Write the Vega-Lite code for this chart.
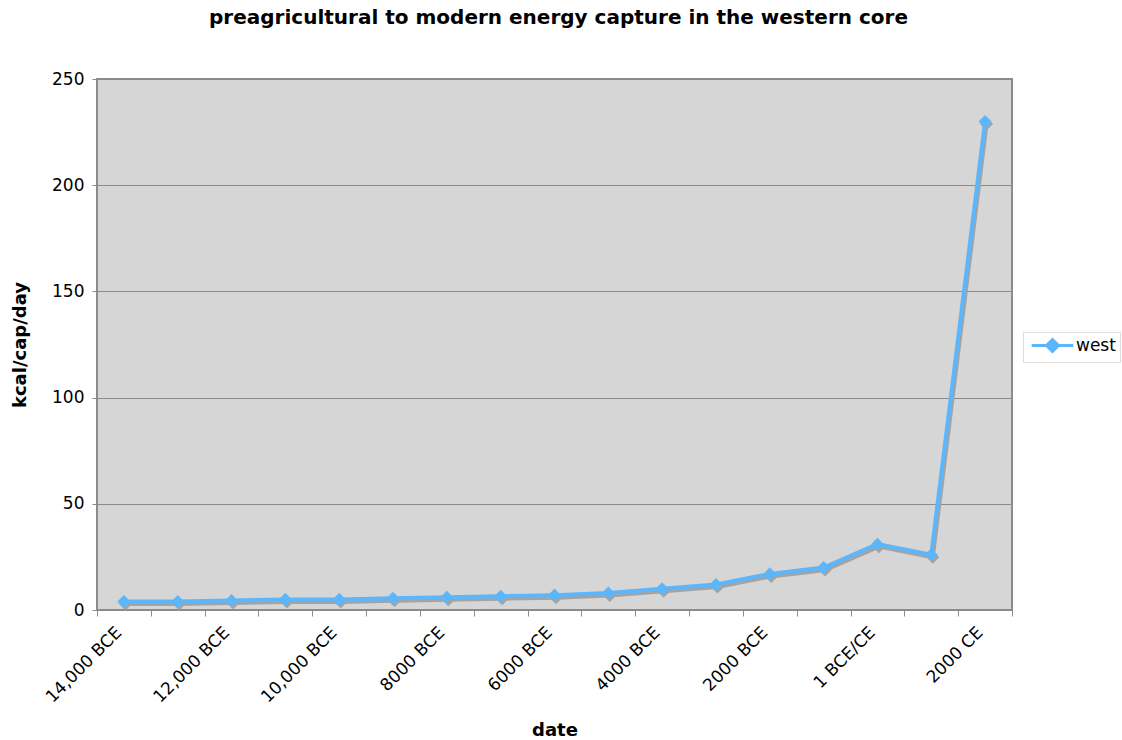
{
  "$schema": "https://vega.github.io/schema/vega-lite/v6.json",
  "width": 915,
  "height": 531,
  "autosize": "none",
  "padding": {"left": 97, "top": 79, "right": 110, "bottom": 130},
  "background": "white",
  "config": {
    "font": "DejaVu Sans",
    "view": {"fill": "#d6d6d6", "stroke": "#8c8c8c", "strokeWidth": 2}
  },
  "title": {
    "text": "preagricultural to modern energy capture in the western core",
    "fontSize": 20,
    "fontWeight": "bold",
    "font": "DejaVu Sans",
    "color": "black",
    "anchor": "middle",
    "dx": 4,
    "offset": 42
  },
  "data": {
    "values": [
      {"date": "14,000 BCE", "kcal": 4, "series": "west"},
      {"date": "13,000 BCE", "kcal": 4, "series": "west"},
      {"date": "12,000 BCE", "kcal": 4.5, "series": "west"},
      {"date": "11,000 BCE", "kcal": 5, "series": "west"},
      {"date": "10,000 BCE", "kcal": 5, "series": "west"},
      {"date": "9000 BCE", "kcal": 5.5, "series": "west"},
      {"date": "8000 BCE", "kcal": 6, "series": "west"},
      {"date": "7000 BCE", "kcal": 6.5, "series": "west"},
      {"date": "6000 BCE", "kcal": 7, "series": "west"},
      {"date": "5000 BCE", "kcal": 8, "series": "west"},
      {"date": "4000 BCE", "kcal": 10, "series": "west"},
      {"date": "3000 BCE", "kcal": 12, "series": "west"},
      {"date": "2000 BCE", "kcal": 17, "series": "west"},
      {"date": "1000 BCE", "kcal": 20, "series": "west"},
      {"date": "1 BCE/CE", "kcal": 31, "series": "west"},
      {"date": "1000 CE", "kcal": 26, "series": "west"},
      {"date": "2000 CE", "kcal": 230, "series": "west"}
    ]
  },
  "encoding": {
    "x": {
      "field": "date",
      "type": "ordinal",
      "sort": null,
      "scale": {"type": "band", "paddingInner": 0, "paddingOuter": 0},
      "axis": {
        "title": "date",
        "titleFontSize": 18,
        "titleFontWeight": "bold",
        "titleColor": "black",
        "titlePadding": 16,
        "labelFontSize": 17,
        "labelColor": "black",
        "labelAngle": -45,
        "labelOverlap": false,
        "labelPadding": 8,
        "labelOffset": -11,
        "labelExpr": "indexof(['14,000 BCE','12,000 BCE','10,000 BCE','8000 BCE','6000 BCE','4000 BCE','2000 BCE','1 BCE/CE','2000 CE'], datum.label) >= 0 ? datum.label : ''",
        "tickBand": "extent",
        "tickSize": 6,
        "tickColor": "#8c8c8c",
        "tickWidth": 1,
        "domain": false,
        "grid": false
      }
    },
    "y": {
      "field": "kcal",
      "type": "quantitative",
      "scale": {"domain": [0, 250], "nice": false},
      "axis": {
        "title": "kcal/cap/day",
        "titleFontSize": 18,
        "titleFontWeight": "bold",
        "titleColor": "black",
        "titlePadding": 22,
        "values": [0, 50, 100, 150, 200, 250],
        "labelFontSize": 17,
        "labelColor": "black",
        "labelPadding": 8,
        "tickSize": 5,
        "tickColor": "#8c8c8c",
        "domain": false,
        "grid": true,
        "gridColor": "#8a8a8a",
        "gridWidth": 1,
        "gridOpacity": 1
      }
    }
  },
  "layer": [
    {
      "mark": {"type": "line", "color": "#a3a3a3", "strokeWidth": 4, "xOffset": 1.5, "yOffset": 2.5}
    },
    {
      "mark": {"type": "point", "shape": "diamond", "filled": true, "opacity": 1, "color": "#a3a3a3", "size": 170, "xOffset": 1.5, "yOffset": 2.5}
    },
    {
      "mark": {"type": "line", "strokeWidth": 4},
      "encoding": {
        "color": {
          "field": "series",
          "type": "nominal",
          "scale": {"range": ["#5cb6fb"]},
          "legend": {
            "title": null,
            "orient": "none",
            "legendX": 926,
            "legendY": 253,
            "strokeColor": "#dddddd",
            "padding": 4,
            "labelFontSize": 17,
            "labelColor": "black",
            "symbolType": "M-2.6,0H2.6M0,-0.75L0.75,0L0,0.75L-0.75,0Z",
            "symbolSize": 256,
            "symbolStrokeWidth": 3,
            "symbolFillColor": "#5cb6fb",
            "symbolStrokeColor": "#5cb6fb",
            "symbolOffset": 16,
            "labelOffset": 14
          }
        }
      }
    },
    {
      "mark": {"type": "point", "shape": "diamond", "filled": true, "opacity": 1, "size": 170},
      "encoding": {
        "color": {"field": "series", "type": "nominal"}
      }
    }
  ]
}
